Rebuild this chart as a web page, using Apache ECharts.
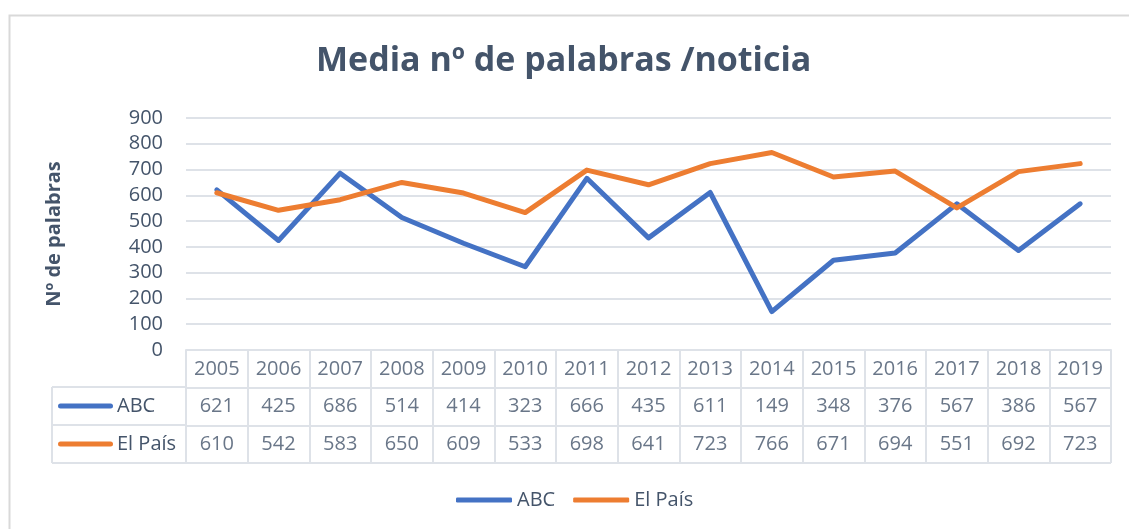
<!DOCTYPE html>
<html>
<head>
<meta charset="utf-8">
<script src="https://cdn.jsdelivr.net/npm/echarts@6/dist/echarts.min.js"></script>
<style>
  html, body { margin: 0; padding: 0; background: #fff; }
  #main { width: 1129px; height: 529px; }
</style>
</head>
<body>
<div id="main"></div>
<script>
// datos
var years = ['2005', '2006', '2007', '2008', '2009', '2010', '2011', '2012', '2013', '2014', '2015', '2016', '2017', '2018', '2019'];
var abc = [621, 425, 686, 514, 414, 323, 666, 435, 611, 149, 348, 376, 567, 386, 567];
var elPais = [610, 542, 583, 650, 609, 533, 698, 641, 723, 766, 671, 694, 551, 692, 723];
var seriesNames = ['ABC', 'El País'];
var yMin = 0, yMax = 900, yStep = 100;

var colors = ['#4472C4', '#ED7D31'];
var textColor = '#44546A';
var lineColor = '#DEE2E8';
var font = 'Open Sans';

// filas de la tabla de datos (cabecera + series)
var tableRows = ['', seriesNames[0], seriesNames[1]];
var cellData = [];
years.forEach(function (y, i) { cellData.push([i, 0, y]); });
abc.forEach(function (v, i) { cellData.push([i, 1, String(v)]); });
elPais.forEach(function (v, i) { cellData.push([i, 2, String(v)]); });

var chartContainer = document.getElementById('main');
var myChart = echarts.init(chartContainer);

var splitStyle = { show: true, lineStyle: { color: lineColor, width: 2 } };
var axisLineStyle = { show: true, lineStyle: { color: lineColor, width: 2 } };

myChart.setOption({
  animation: false,
  textStyle: { fontFamily: font },
  title: {
    text: 'Media nº de palabras /noticia',
    left: 311,
    top: 39,
    textStyle: { fontSize: 34, fontWeight: 'bold', color: textColor, fontFamily: font }
  },
  // borde del área del gráfico
  graphic: [{
    type: 'rect',
    left: 7, top: 13,
    shape: { width: 1200, height: 600 },
    style: { fill: null, stroke: '#D9D9D9', lineWidth: 2 },
    silent: true
  }],
  legend: {
    data: seriesNames,
    left: 451,
    top: 485,
    icon: 'roundRect',
    itemWidth: 56,
    itemHeight: 5,
    itemGap: 18,
    textStyle: { fontSize: 20, color: textColor, fontFamily: font }
  },
  grid: [
    { left: 186, right: 18, top: 118, height: 232 },   // gráfico
    { left: 186, right: 18, top: 350, height: 113 },   // tabla
    { left: 52, width: 134, top: 387, height: 76 }     // etiquetas de fila
  ],
  xAxis: [{
    gridIndex: 0,
    type: 'category',
    data: years,
    boundaryGap: true,
    axisLabel: { show: false },
    axisTick: { show: false },
    axisLine: axisLineStyle
  }, {
    gridIndex: 1,
    type: 'category',
    data: years,
    boundaryGap: true,
    axisLabel: { show: false },
    axisTick: { show: false },
    axisLine: { show: false },
    splitLine: splitStyle
  }, {
    gridIndex: 2,
    type: 'category',
    data: ['serie'],
    boundaryGap: true,
    axisLabel: { show: false },
    axisTick: { show: false },
    axisLine: { show: false },
    splitLine: splitStyle
  }],
  yAxis: [{
    gridIndex: 0,
    type: 'value',
    min: yMin,
    max: yMax,
    interval: yStep,
    name: 'Nº de palabras',
    nameLocation: 'middle',
    nameGap: 122,
    nameTextStyle: { fontSize: 20, fontWeight: 'bold', color: textColor, fontFamily: font },
    axisLine: { show: false },
    axisTick: { show: false },
    axisLabel: { fontSize: 20, color: textColor, margin: 23, fontFamily: font },
    splitLine: splitStyle
  }, {
    gridIndex: 1,
    type: 'category',
    data: tableRows,
    inverse: true,
    boundaryGap: true,
    axisLabel: { show: false },
    axisTick: { show: false },
    axisLine: { show: false },
    splitLine: splitStyle
  }, {
    gridIndex: 2,
    type: 'category',
    data: seriesNames,
    inverse: true,
    boundaryGap: true,
    axisTick: { show: false },
    axisLine: { show: false },
    splitLine: splitStyle,
    axisLabel: {
      inside: true,
      margin: 6,
      formatter: function (value, index) {
        return '{k' + index + '|}{t|' + value + '}';
      },
      rich: {
        k0: { width: 55, height: 5, backgroundColor: colors[0], borderRadius: 3, verticalAlign: 'middle' },
        k1: { width: 55, height: 5, backgroundColor: colors[1], borderRadius: 3, verticalAlign: 'middle' },
        t: { fontSize: 20, color: textColor, padding: [0, 0, 0, 4], fontFamily: font, verticalAlign: 'middle' }
      }
    }
  }],
  series: [{
    name: seriesNames[0],
    type: 'line',
    data: abc,
    symbol: 'none',
    color: colors[0],
    lineStyle: { color: colors[0], width: 5, cap: 'round', join: 'round' }
  }, {
    name: seriesNames[1],
    type: 'line',
    data: elPais,
    symbol: 'none',
    color: colors[1],
    lineStyle: { color: colors[1], width: 5, cap: 'round', join: 'round' }
  }, {
    // textos de la tabla de datos
    name: 'tabla',
    type: 'scatter',
    xAxisIndex: 1,
    yAxisIndex: 1,
    data: cellData,
    symbolSize: 1,
    itemStyle: { color: 'transparent' },
    silent: true,
    label: {
      show: true,
      position: 'inside',
      formatter: function (p) { return p.value[2]; },
      fontSize: 20,
      color: textColor,
      fontFamily: font
    }
  }]
});
</script>
</body>
</html>
